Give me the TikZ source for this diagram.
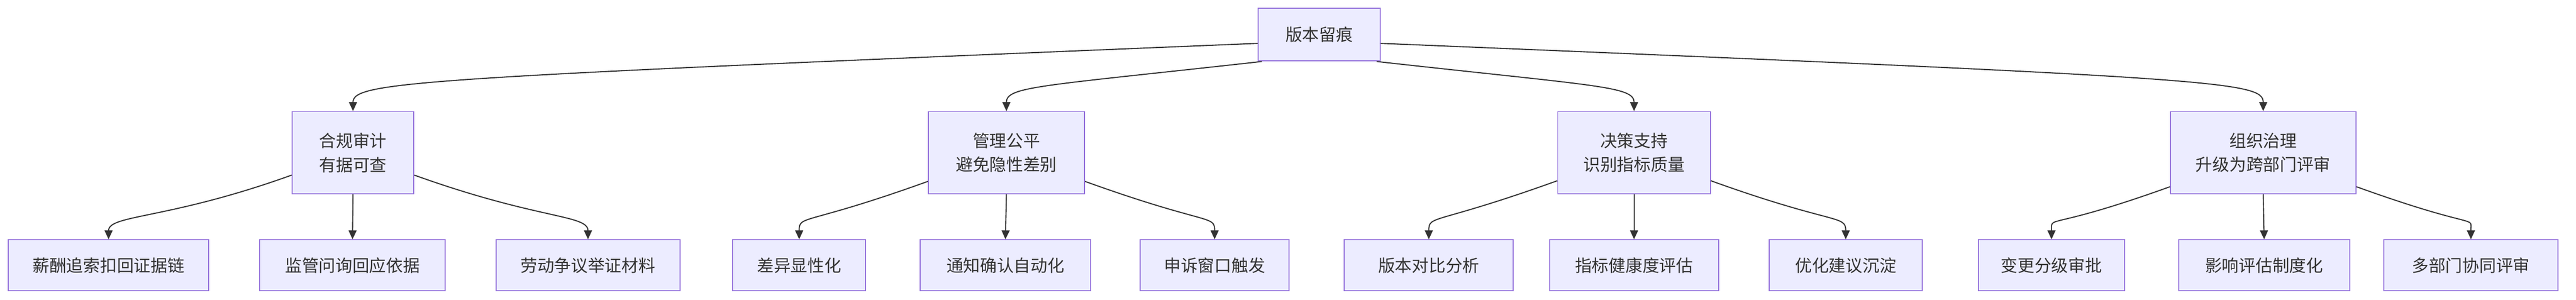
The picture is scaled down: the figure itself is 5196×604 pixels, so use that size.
\documentclass[tikz,border=0pt]{standalone}
\usepackage{fontspec}
\setmainfont{Noto Sans CJK SC}
\usetikzlibrary{arrows.meta}
\definecolor{boxfill}{HTML}{ECECFF}
\definecolor{boxline}{HTML}{9370DB}
\definecolor{edgeline}{HTML}{333333}
\tikzset{
  box/.style={draw=boxline,fill=boxfill,line width=0.5pt,align=center,
    text=edgeline,font=\fontsize{8.5}{12}\selectfont,inner xsep=0pt},
  leaf/.style={box,minimum height=25.75pt},
  mid/.style={box,minimum height=41.5pt},
  edge/.style={draw=edgeline,line width=0.55pt,-{Triangle[length=4.5pt,width=4pt]}}
}
\begin{document}
\begin{tikzpicture}[x=0.25pt,y=-0.25pt]
\useasboundingbox (0,0) rectangle (5196,604);
% root
\node[box,minimum width=61.5pt,minimum height=26.5pt] (root) at (2661,70) {版本留痕};
% second level
\node[mid,minimum width=61.25pt] (audit) at (712,308) {合规审计\\有据可查};
\node[mid,minimum width=78.75pt] (fair) at (2030,308) {管理公平\\避免隐性差别};
\node[mid,minimum width=77pt] (decide) at (3296,308) {决策支持\\识别指标质量};
\node[mid,minimum width=93.5pt] (govern) at (4565,308) {组织治理\\升级为跨部门评审};
% leaves
\node[leaf,minimum width=101pt] (a1) at (219,535) {薪酬追索扣回证据链};
\node[leaf,minimum width=93.5pt] (a2) at (711,535) {监管问询回应依据};
\node[leaf,minimum width=92.75pt] (a3) at (1186,535) {劳动争议举证材料};
\node[leaf,minimum width=67pt] (f1) at (1612,535) {差异显性化};
\node[leaf,minimum width=86pt] (f2) at (2028,535) {通知确认自动化};
\node[leaf,minimum width=75.25pt] (f3) at (2450,535) {申诉窗口触发};
\node[leaf,minimum width=85.25pt] (d1) at (2882,535) {版本对比分析};
\node[leaf,minimum width=85.25pt] (d2) at (3296,535) {指标健康度评估};
\node[leaf,minimum width=77pt] (d3) at (3723,535) {优化建议沉淀};
\node[leaf,minimum width=73.75pt] (g1) at (4138,535) {变更分级审批};
\node[leaf,minimum width=86.25pt] (g2) at (4567,535) {影响评估制度化};
\node[leaf,minimum width=87.75pt] (g3) at (4984,535) {多部门协同评审};
% edges
\draw[edge] (root.188) .. controls +(-1700,70) and +(0,-60) .. (audit.north);
\draw[edge] (root.205) .. controls +(-450,50) and +(0,-50) .. (fair.north);
\draw[edge] (root.-25) .. controls +(450,50) and +(0,-50) .. (decide.north);
\draw[edge] (root.-8) .. controls +(1700,70) and +(0,-60) .. (govern.north);
\foreach \p/\l/\m/\r in {audit/a1/a2/a3,fair/f1/f2/f3,decide/d1/d2/d3,govern/g1/g2/g3}{
  \draw[edge] (\p.200) .. controls +(-250,90) and +(0,-50) .. (\l.north);
  \draw[edge] (\p.south) -- (\m.north);
  \draw[edge] (\p.-20) .. controls +(250,90) and +(0,-50) .. (\r.north);
}
\end{tikzpicture}
\end{document}
